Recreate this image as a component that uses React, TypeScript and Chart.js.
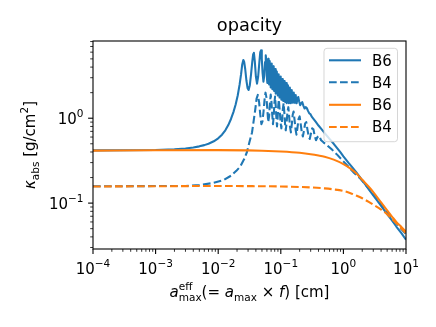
import React, { useEffect, useRef } from "react";
import { Chart, registerables } from "chart.js";
Chart.register(...registerables);

const W = 436;
const H = 327;
const FONT = "'DejaVu Sans', sans-serif";
const BLUE = "#1f77b4";
const ORANGE = "#ff7f0e";

const titleText = "opacity";
const legendLabels = ["B6", "B4", "B6", "B4"];
const xMajorExps = [-4, -3, -2, -1, 0, 1];
const yMajorExps = [-1, 0];
const xRange = [1e-4, 10];
const yRange = [0.0288, 8.12];

const orangeB6: number[][] = [
  [1e-4, 0.415], [1e-3, 0.419], [0.01, 0.421], [0.03, 0.418], [0.05, 0.414], [0.1, 0.405],
  [0.15, 0.398], [0.2, 0.391], [0.3, 0.377], [0.4, 0.364], [0.5, 0.352], [0.7, 0.325],
  [1, 0.288], [1.3, 0.255], [1.6, 0.225], [2, 0.188], [2.5, 0.158], [3, 0.135], [4, 0.102],
  [5, 0.082], [6, 0.069], [7, 0.06], [8.5, 0.052], [10, 0.046],
];

const orangeB4: number[][] = [
  [1e-4, 0.157], [1e-3, 0.158], [0.01, 0.159], [0.05, 0.158], [0.1, 0.157], [0.2, 0.155],
  [0.3, 0.153], [0.5, 0.149], [0.7, 0.145], [1, 0.139], [1.3, 0.131], [1.6, 0.123],
  [2, 0.114], [2.5, 0.104], [3, 0.096], [4, 0.084], [5, 0.074], [6, 0.065], [7, 0.058],
  [8.5, 0.05], [10, 0.044],
];

const blueB6: number[][] = [
  [1e-4, 0.418], [1e-3, 0.423], [2e-3, 0.43], [3e-3, 0.44], [4e-3, 0.452], [5e-3, 0.466],
  [6e-3, 0.482], [7e-3, 0.5], [8.5e-3, 0.535], [0.01, 0.58], [0.0115, 0.64], [0.013, 0.72],
  [0.0145, 0.83], [0.016, 0.98], [0.0175, 1.18], [0.019, 1.45], [0.0205, 1.85], [0.022, 2.5],
  [0.0232, 3.3], [0.0242, 4.3], [0.0252, 4.85], [0.026, 4.6], [0.027, 3.8], [0.0282, 2.8],
  [0.0295, 2.25], [0.0306, 2.15], [0.032, 2.45], [0.0335, 3.3], [0.035, 4.6], [0.0362, 5.7],
  [0.0372, 5.9], [0.0385, 4.6], [0.04, 3.1], [0.0417, 2.55], [0.0435, 3.1], [0.0455, 4.6],
  [0.047, 6.0], [0.0483, 6.3], [0.0497, 5.0], [0.0512, 3.4], [0.0528, 2.7], [0.0545, 3.2],
  [0.056, 4.6], [0.0575, 5.5], [0.059, 4.6], [0.06, 3.0], [0.061, 2.6], [0.062, 3.8],
  [0.063, 5.0], [0.064, 3.4], [0.065, 2.5], [0.066, 3.6], [0.067, 4.7], [0.068, 3.2],
  [0.069, 2.3], [0.07, 3.3], [0.071, 4.4], [0.0722, 3.0], [0.0734, 2.2], [0.0746, 3.1],
  [0.0758, 4.1], [0.077, 2.8], [0.0782, 2.1], [0.0795, 2.9], [0.0808, 3.8], [0.0822, 2.6],
  [0.0836, 1.95], [0.085, 2.7], [0.0864, 3.55], [0.0879, 2.5], [0.0894, 1.85], [0.0909, 2.5],
  [0.0924, 3.3], [0.094, 2.35], [0.0956, 1.75], [0.0972, 2.35], [0.0988, 3.1], [0.1005, 2.2],
  [0.1022, 1.65], [0.104, 2.2], [0.1058, 2.9], [0.1076, 2.1], [0.1094, 1.6], [0.1113, 2.05],
  [0.1132, 2.75], [0.1152, 2.0], [0.1172, 1.55], [0.1192, 1.95], [0.1213, 2.6], [0.1234, 1.9],
  [0.1255, 1.5], [0.1277, 1.85], [0.13, 2.45], [0.1323, 1.85], [0.1346, 1.5], [0.137, 1.8],
  [0.1394, 2.3], [0.1419, 1.8], [0.1444, 1.5], [0.147, 1.75], [0.1496, 2.15], [0.1523, 1.75],
  [0.155, 1.52], [0.158, 1.7], [0.161, 2.0], [0.164, 1.7], [0.167, 1.52], [0.17, 1.65],
  [0.173, 1.88], [0.176, 1.65], [0.179, 1.5], [0.184, 1.68], [0.19, 1.78], [0.197, 1.56],
  [0.204, 1.42], [0.212, 1.5], [0.22, 1.55], [0.23, 1.4], [0.24, 1.3], [0.25, 1.35],
  [0.26, 1.32], [0.272, 1.22], [0.285, 1.14], [0.297, 1.12], [0.31, 1.05], [0.33, 0.99],
  [0.36, 0.91], [0.4, 0.82], [0.45, 0.74], [0.5, 0.67], [0.6, 0.57], [0.7, 0.5], [0.8, 0.44],
  [0.9, 0.395], [1, 0.355], [1.2, 0.3], [1.4, 0.262], [1.6, 0.232], [1.86, 0.2], [2.2, 0.168],
  [2.6, 0.142], [3, 0.123], [3.5, 0.106], [4, 0.093], [5, 0.074], [6, 0.062], [7, 0.053],
  [8.5, 0.044], [10, 0.037],
];

const blueB4: number[][] = [
  [1e-4, 0.158], [3e-3, 0.159], [5e-3, 0.163], [0.008, 0.172], [0.0122, 0.187], [0.016, 0.21],
  [0.0195, 0.24], [0.0225, 0.27], [0.026, 0.33], [0.0288, 0.4], [0.0315, 0.52], [0.0347, 0.68],
  [0.037, 0.95], [0.039, 1.25], [0.041, 1.7], [0.043, 1.88], [0.045, 1.55], [0.047, 1.1],
  [0.049, 0.85], [0.051, 0.92], [0.053, 1.2], [0.055, 1.65], [0.057, 2.0], [0.059, 1.75],
  [0.061, 1.25], [0.063, 0.9], [0.065, 1.05], [0.067, 1.5], [0.069, 1.9], [0.071, 1.55],
  [0.073, 1.1], [0.075, 0.85], [0.077, 1.05], [0.079, 1.5], [0.081, 1.8], [0.083, 1.4],
  [0.085, 1.0], [0.087, 0.8], [0.089, 1.0], [0.091, 1.4], [0.093, 1.65], [0.096, 1.25],
  [0.099, 0.9], [0.102, 0.76], [0.105, 0.95], [0.108, 1.3], [0.111, 1.5], [0.114, 1.15],
  [0.117, 0.85], [0.12, 0.72], [0.124, 0.9], [0.128, 1.2], [0.132, 1.35], [0.136, 1.05],
  [0.14, 0.8], [0.145, 0.68], [0.15, 0.85], [0.155, 1.1], [0.16, 1.2], [0.166, 0.95],
  [0.172, 0.74], [0.178, 0.64], [0.185, 0.78], [0.192, 0.98], [0.2, 1.05], [0.208, 0.85],
  [0.216, 0.69], [0.225, 0.61], [0.235, 0.72], [0.245, 0.87], [0.255, 0.9], [0.266, 0.74],
  [0.278, 0.62], [0.29, 0.57], [0.303, 0.66], [0.317, 0.76], [0.332, 0.74], [0.348, 0.62],
  [0.365, 0.55], [0.385, 0.6], [0.41, 0.62], [0.44, 0.55], [0.48, 0.52], [0.55, 0.48],
  [0.65, 0.43], [0.8, 0.37], [1, 0.31], [1.25, 0.26], [1.5, 0.225], [1.86, 0.195],
  [2.2, 0.168], [2.6, 0.145], [3, 0.127], [3.5, 0.11], [4, 0.097], [5, 0.079], [6, 0.067],
  [7, 0.058], [8.5, 0.049], [10, 0.043],
];

type Run = { t: string; s: number; it?: boolean; dy?: number; adv?: boolean };

const FS = 15;
const FSS = 10.5;

function runFont(r: Run) {
  return `${r.it ? "italic " : ""}${r.s}px ${FONT}`;
}
function runsWidth(ctx: CanvasRenderingContext2D, runs: Run[]) {
  let w = 0;
  for (const r of runs) {
    ctx.font = runFont(r);
    if (r.adv !== false) w += ctx.measureText(r.t).width;
  }
  return w;
}
function drawRuns(ctx: CanvasRenderingContext2D, runs: Run[], x: number, y: number, align: string) {
  const w = runsWidth(ctx, runs);
  let cx = align === "left" ? x : align === "center" ? x - w / 2 : x - w;
  ctx.textAlign = "left";
  ctx.textBaseline = "alphabetic";
  for (const r of runs) {
    ctx.font = runFont(r);
    ctx.fillText(r.t, cx, y + (r.dy || 0));
    if (r.adv !== false) cx += ctx.measureText(r.t).width;
  }
}
function powRuns(e: number): Run[] {
  const es = e < 0 ? "\u2212" + String(-e) : String(e);
  return [
    { t: "10", s: FS },
    { t: es, s: FSS, dy: -7 },
  ];
}

const decorPlugin = {
  id: "decor",
  afterDraw(chart: any) {
    const ctx: CanvasRenderingContext2D = chart.ctx;
    const { left, right, top, bottom } = chart.chartArea;
    const xs = chart.scales.x;
    const ys = chart.scales.y;
    ctx.save();
    ctx.fillStyle = "#000";
    ctx.strokeStyle = "#000";
    ctx.lineWidth = 1.1;
    ctx.strokeRect(left, top, right - left, bottom - top);
    for (let e = -4; e <= 1; e++) {
      for (let m = 1; m <= 9; m++) {
        const v = m * Math.pow(10, e);
        if (v < xRange[0] * 0.999 || v > xRange[1] * 1.001) continue;
        const px = xs.getPixelForValue(v);
        ctx.lineWidth = m === 1 ? 1.1 : 0.8;
        const len = m === 1 ? 4.9 : 2.8;
        ctx.beginPath();
        ctx.moveTo(px, bottom);
        ctx.lineTo(px, bottom + len);
        ctx.stroke();
      }
    }
    for (let e = -2; e <= 0; e++) {
      for (let m = 1; m <= 9; m++) {
        const v = m * Math.pow(10, e);
        if (v < yRange[0] || v > yRange[1]) continue;
        const py = ys.getPixelForValue(v);
        ctx.lineWidth = m === 1 ? 1.1 : 0.8;
        const len = m === 1 ? 4.9 : 2.8;
        ctx.beginPath();
        ctx.moveTo(left, py);
        ctx.lineTo(left - len, py);
        ctx.stroke();
      }
    }
    for (const e of xMajorExps) {
      const px = xs.getPixelForValue(Math.pow(10, e));
      drawRuns(ctx, powRuns(e), px, 273.5, "center");
    }
    for (const e of yMajorExps) {
      const py = ys.getPixelForValue(Math.pow(10, e));
      drawRuns(ctx, powRuns(e), 83.5, py + 5.5, "right");
    }
    drawRuns(ctx, [{ t: titleText, s: 17.8 }], (left + right) / 2, 30.5, "center");
    const xl: Run[] = [
      { t: "a", s: FS, it: true },
      { t: "eff", s: FSS, dy: -7, adv: false },
      { t: "max", s: FSS, dy: 3.5 },
      { t: "(= ", s: FS },
      { t: "a", s: FS, it: true },
      { t: "max", s: FSS, dy: 3.5 },
      { t: " \u00d7 ", s: FS },
      { t: "f", s: FS, it: true },
      { t: ") [cm]", s: FS },
    ];
    drawRuns(ctx, xl, (left + right) / 2, 297, "center");
    ctx.save();
    ctx.translate(35, (top + bottom) / 2);
    ctx.rotate(-Math.PI / 2);
    const yl: Run[] = [
      { t: "\u03ba", s: FS, it: true },
      { t: "abs", s: FSS, dy: 3.5 },
      { t: " [g/cm", s: FS },
      { t: "2", s: FSS, dy: -7 },
      { t: "]", s: FS },
    ];
    drawRuns(ctx, yl, 0, 0, "center");
    ctx.restore();
    const lx = 324, ly = 48.3, lw = 73.5, lh = 93.4, rr = 3;
    ctx.beginPath();
    ctx.moveTo(lx + rr, ly);
    ctx.lineTo(lx + lw - rr, ly);
    ctx.quadraticCurveTo(lx + lw, ly, lx + lw, ly + rr);
    ctx.lineTo(lx + lw, ly + lh - rr);
    ctx.quadraticCurveTo(lx + lw, ly + lh, lx + lw - rr, ly + lh);
    ctx.lineTo(lx + rr, ly + lh);
    ctx.quadraticCurveTo(lx, ly + lh, lx, ly + lh - rr);
    ctx.lineTo(lx, ly + rr);
    ctx.quadraticCurveTo(lx, ly, lx + rr, ly);
    ctx.closePath();
    ctx.fillStyle = "rgba(255,255,255,0.8)";
    ctx.fill();
    ctx.strokeStyle = "rgba(204,204,204,0.8)";
    ctx.lineWidth = 1;
    ctx.stroke();
    const rows = [60.3, 82.3, 104.8, 127];
    const cols = [BLUE, BLUE, ORANGE, ORANGE];
    const dashed = [false, true, false, true];
    for (let i = 0; i < 4; i++) {
      ctx.strokeStyle = cols[i];
      ctx.lineWidth = 2.08;
      ctx.lineCap = "butt";
      ctx.setLineDash(dashed[i] ? [7.7, 3.3] : []);
      ctx.beginPath();
      ctx.moveTo(329, rows[i]);
      ctx.lineTo(361, rows[i]);
      ctx.stroke();
      ctx.setLineDash([]);
      ctx.fillStyle = "#000";
      drawRuns(ctx, [{ t: legendLabels[i], s: FS }], 372, rows[i] + 5.4, "left");
    }
    ctx.restore();
  },
};

function ds(label: string, pts: number[][], color: string, dash: boolean, smooth: boolean) {
  return {
    label,
    data: pts.map(([x, y]) => ({ x, y })),
    borderColor: color,
    backgroundColor: color,
    borderWidth: 2.08,
    borderDash: dash ? [7.7, 3.3] : [],
    borderJoinStyle: "round" as const,
    pointRadius: 0,
    fill: false,
    tension: 0,
    cubicInterpolationMode: smooth ? ("monotone" as const) : ("default" as const),
  };
}

export default function App() {
  const ref = useRef<HTMLCanvasElement | null>(null);
  useEffect(() => {
    document.body.style.margin = "0";
    const canvas = ref.current!;
    const chart = new Chart(canvas, {
      type: "line",
      data: {
        datasets: [
          ds(legendLabels[3], orangeB4, ORANGE, true, true),
          ds(legendLabels[2], orangeB6, ORANGE, false, true),
          ds(legendLabels[1], blueB4, BLUE, true, false),
          ds(legendLabels[0], blueB6, BLUE, false, false),
        ],
      },
      options: {
        animation: false,
        responsive: false,
        devicePixelRatio: 1,
        events: [],
        layout: { padding: { left: 93, right: 30, top: 41, bottom: 78 } },
        scales: {
          x: { type: "logarithmic", min: xRange[0], max: xRange[1], display: false },
          y: { type: "logarithmic", min: yRange[0], max: yRange[1], display: false },
        },
        plugins: { legend: { display: false }, title: { display: false }, tooltip: { enabled: false } },
      },
      plugins: [decorPlugin],
    });
    return () => chart.destroy();
  }, []);
  return <canvas ref={ref} width={W} height={H} style={{ display: "block", width: W, height: H }} />;
}
